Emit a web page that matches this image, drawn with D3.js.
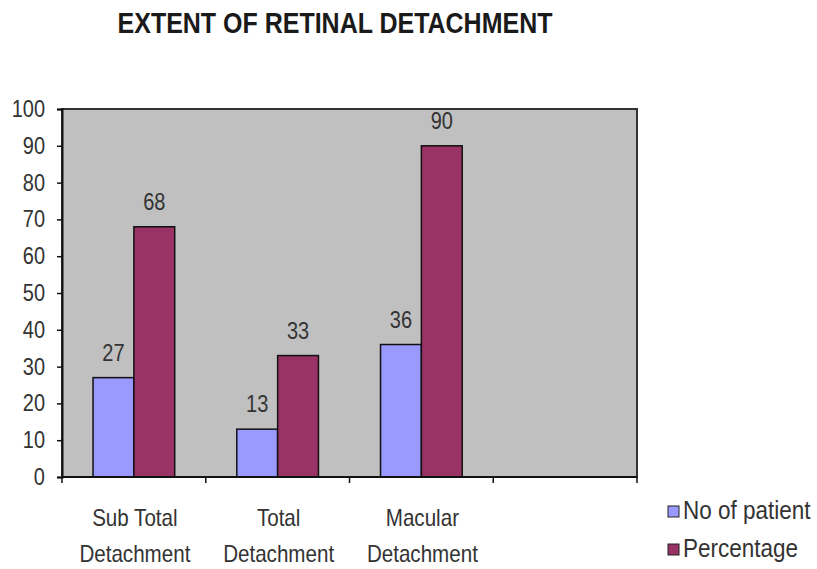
<!DOCTYPE html>
<html>
<head>
<meta charset="utf-8">
<script src="https://cdn.jsdelivr.net/npm/d3@7"></script>
<style>
  body { margin: 0; background: #fff; }
  text { font-family: "Liberation Sans", Arial, sans-serif; }
</style>
</head>
<body>
<div id="chart"></div>
<script>
// Chart data
const categories = ["Sub Total Detachment", "Total Detachment", "Macular Detachment", ""];
const categoryLines = [["Sub Total", "Detachment"], ["Total", "Detachment"], ["Macular", "Detachment"], []];
const seriesNames = ["No of patient", "Percentage"];
const patients = [27, 13, 36];
const percentage = [68, 33, 90];
const yTicks = [0, 10, 20, 30, 40, 50, 60, 70, 80, 90, 100];

const width = 817;
const height = 569;
const plot = { left: 62, right: 637, top: 109, bottom: 477 };
const colors = ["#9999ff", "#993366"];
const stretch = 1.17; // source text looks taller than normal

const svg = d3.select("#chart").append("svg")
    .attr("width", width)
    .attr("height", height);

const x = d3.scaleBand().domain(categories).range([plot.left, plot.right]);
const xs = d3.scaleBand().domain(seriesNames).range([0, x.bandwidth()]).paddingOuter(0.76);
const y = d3.scaleLinear().domain([0, 100]).range([plot.bottom, plot.top]);

// Title
svg.append("text")
    .attr("transform", `translate(335,33) scale(1,${stretch})`)
    .attr("text-anchor", "middle")
    .attr("font-size", 25)
    .attr("font-weight", "bold")
    .attr("fill", "#1a1a1a")
    .text("EXTENT OF RETINAL DETACHMENT");

// Plot background
svg.append("rect")
    .attr("x", plot.left)
    .attr("y", plot.top)
    .attr("width", plot.right - plot.left)
    .attr("height", plot.bottom - plot.top)
    .attr("fill", "#c0c0c0")
    .attr("stroke", "#333")
    .attr("stroke-width", 2);

// Bars
const rows = categories.slice(0, 3).map((c, i) => ({ cat: c, values: [patients[i], percentage[i]] }));
const groups = svg.selectAll("g.grp")
    .data(rows)
    .enter()
    .append("g")
    .attr("class", "grp")
    .attr("transform", d => `translate(${x(d.cat)},0)`);

groups.selectAll("rect")
    .data(d => d.values.map((v, j) => ({ name: seriesNames[j], v: v, j: j })))
    .enter()
    .append("rect")
    .attr("x", d => xs(d.name))
    .attr("y", d => y(d.v))
    .attr("width", xs.bandwidth())
    .attr("height", d => y(0) - y(d.v))
    .attr("fill", d => colors[d.j])
    .attr("stroke", "#111")
    .attr("stroke-width", 1.5);

groups.selectAll("text.val")
    .data(d => d.values.map((v, j) => ({ name: seriesNames[j], v: v })))
    .enter()
    .append("text")
    .attr("class", "val")
    .attr("transform", d => `translate(${xs(d.name) + xs.bandwidth() / 2},${y(d.v) - 17}) scale(1,${stretch})`)
    .attr("text-anchor", "middle")
    .attr("font-size", 20)
    .attr("fill", "#333")
    .text(d => d.v);

// Y axis
const yAxis = svg.append("g")
    .attr("transform", `translate(${plot.left},0)`)
    .call(d3.axisLeft(y).tickValues(yTicks).tickSize(5).tickPadding(12));
yAxis.select(".domain").attr("stroke", "#111").attr("stroke-width", 2);
yAxis.selectAll(".tick line").attr("stroke", "#111").attr("stroke-width", 1.5);
yAxis.selectAll(".tick text")
    .attr("font-size", 20)
    .attr("fill", "#333")
    .attr("font-family", "Liberation Sans, Arial, sans-serif")
    .attr("transform", `scale(1,${stretch})`);

// X axis (ticks at category boundaries)
svg.append("line")
    .attr("x1", plot.left).attr("x2", plot.right)
    .attr("y1", plot.bottom).attr("y2", plot.bottom)
    .attr("stroke", "#111").attr("stroke-width", 2);
svg.selectAll("line.xt")
    .data(categories.concat(["end"]))
    .enter()
    .append("line")
    .attr("class", "xt")
    .attr("x1", (d, i) => i < categories.length ? x(d) : plot.right)
    .attr("x2", (d, i) => i < categories.length ? x(d) : plot.right)
    .attr("y1", plot.bottom)
    .attr("y2", plot.bottom + 6)
    .attr("stroke", "#111")
    .attr("stroke-width", 1.5);

// Category labels
categories.forEach((c, i) => {
    categoryLines[i].forEach((line, k) => {
        svg.append("text")
            .attr("transform", `translate(${x(c) + x.bandwidth() / 2 + 1},${526 + k * 36}) scale(1.03,${stretch})`)
            .attr("text-anchor", "middle")
            .attr("font-size", 20)
            .attr("fill", "#333")
            .text(line);
    });
});

// Legend
const legend = svg.selectAll("g.leg")
    .data(seriesNames)
    .enter()
    .append("g")
    .attr("class", "leg")
    .attr("transform", (d, i) => `translate(668,${506 + i * 38})`);
legend.append("rect")
    .attr("width", 11)
    .attr("height", 11)
    .attr("fill", (d, i) => colors[i])
    .attr("stroke", "#222")
    .attr("stroke-width", 1);
legend.append("text")
    .attr("transform", `translate(15,13) scale(1,${stretch})`)
    .attr("font-size", 22.5)
    .attr("fill", "#333")
    .text(d => d);
</script>
</body>
</html>
